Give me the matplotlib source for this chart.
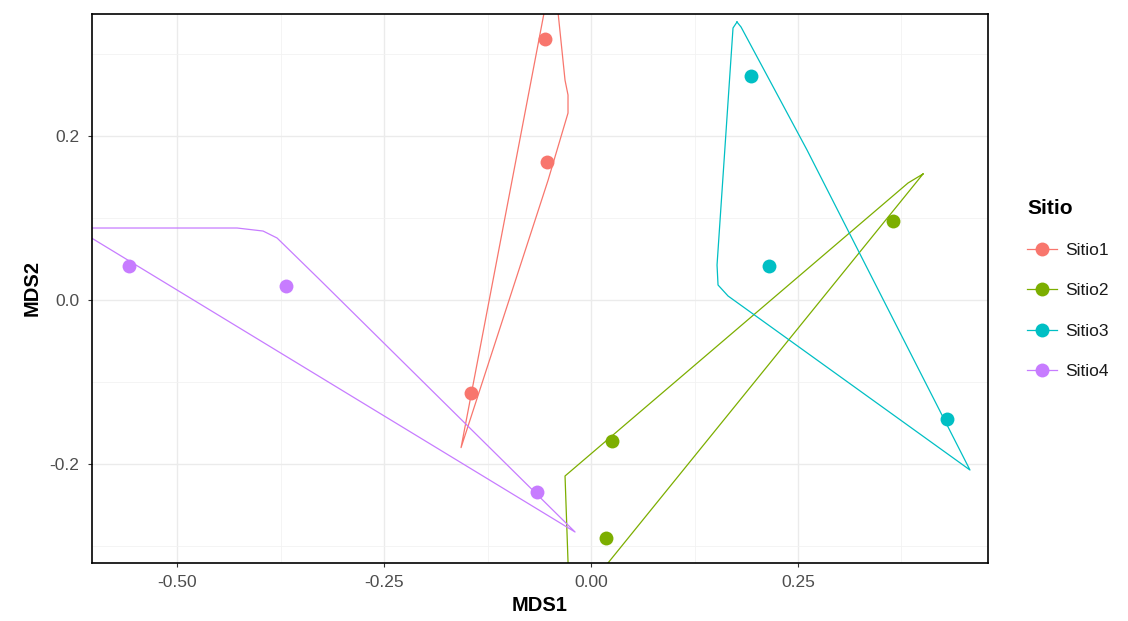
import matplotlib.pyplot as plt
from matplotlib.lines import Line2D
from matplotlib.ticker import MultipleLocator

plt.rcParams['font.family'] = ['Liberation Sans', 'DejaVu Sans']

sites = ['Sitio1', 'Sitio2', 'Sitio3', 'Sitio4']
colors = ['#F8766D', '#7CAE00', '#00BFC4', '#C77CFF']

# NMDS scores per site
mds1 = {
    'Sitio1': [-0.0556, -0.0531, -0.145],
    'Sitio2': [0.365, 0.0254, 0.0181],
    'Sitio3': [0.193, 0.215, 0.430],
    'Sitio4': [-0.558, -0.368, -0.065],
}
mds2 = {
    'Sitio1': [0.318, 0.168, -0.113],
    'Sitio2': [0.096, -0.172, -0.290],
    'Sitio3': [0.273, 0.041, -0.145],
    'Sitio4': [0.041, 0.017, -0.234],
}

# outline of the group hulls
hull_x = {
    'Sitio1': [-0.0543, -0.0471, -0.0411, -0.0314, -0.0278, -0.0278, -0.0519, -0.157],
    'Sitio2': [0.401, 0.3829, -0.0314, -0.0266, -0.0060],
    'Sitio3': [0.1763, 0.1715, 0.1522, 0.1534, 0.1655, 0.4577, 0.2609, 0.1812],
    'Sitio4': [-0.6232, -0.4275, -0.3961, -0.3792, -0.3273, -0.0193],
}
hull_y = {
    'Sitio1': [0.363, 0.373, 0.363, 0.268, 0.250, 0.228, 0.146, -0.180],
    'Sitio2': [0.1537, 0.1427, -0.2146, -0.3537, -0.3537],
    'Sitio3': [0.339, 0.3317, 0.0427, 0.0183, 0.0049, -0.2073, 0.1829, 0.3329],
    'Sitio4': [0.0878, 0.0878, 0.0841, 0.0756, 0.0244, -0.2829],
}

fig = plt.figure(figsize=(11.28, 6.21), dpi=100)
ax = fig.add_axes([0.0816, 0.0934, 0.7943, 0.8841])

for s, c in zip(sites, colors):
    hx = hull_x[s] + hull_x[s][:1]
    hy = hull_y[s] + hull_y[s][:1]
    ax.plot(hx, hy, color=c, lw=0.9, zorder=2)
    ax.plot(mds1[s], mds2[s], 'o', color=c, ms=10, mec='none', zorder=3)

ax.set_xlim(-0.6027, 0.4795)
ax.set_ylim(-0.3207, 0.3488)
ax.xaxis.set_major_locator(MultipleLocator(0.25))
ax.xaxis.set_minor_locator(MultipleLocator(0.125))
ax.yaxis.set_major_locator(MultipleLocator(0.2))
ax.yaxis.set_minor_locator(MultipleLocator(0.1))
ax.set_xticks([-0.5, -0.25, 0.0, 0.25])
ax.set_xticklabels(['-0.50', '-0.25', '0.00', '0.25'])
ax.set_yticks([-0.2, 0.0, 0.2])
ax.set_yticklabels(['-0.2', '0.0', '0.2'])
ax.grid(which='major', color='#EBEBEB', lw=1.0, zorder=0)
ax.grid(which='minor', color='#F2F2F2', lw=0.6, zorder=0)
ax.set_axisbelow(True)
ax.tick_params(which='major', length=3, width=0.8, color='#333333',
               labelcolor='#4D4D4D', labelsize=12.5, pad=6)
ax.tick_params(which='minor', length=0)
for sp in ax.spines.values():
    sp.set_color('black')
    sp.set_linewidth(1.2)

ax.set_xlabel('MDS1', fontsize=14.5, fontweight='bold', labelpad=4)
ax.set_ylabel('MDS2', fontsize=14.5, fontweight='bold', labelpad=6)

handles = [Line2D([0], [0], color=c, lw=0.9, marker='o', ms=10, mec='none')
           for c in colors]
leg = fig.legend(handles, sites, title='Sitio', loc='upper left',
                 bbox_to_anchor=(0.897, 0.705), frameon=False, fontsize=12.5,
                 title_fontproperties={'weight': 'bold', 'size': 15},
                 handlelength=1.7, handletextpad=0.45, labelspacing=1.45)
leg._legend_box.align = 'left'
for t in leg.get_texts():
    t.set_color('#1A1A1A')

fig.savefig('out.png', dpi=100)
